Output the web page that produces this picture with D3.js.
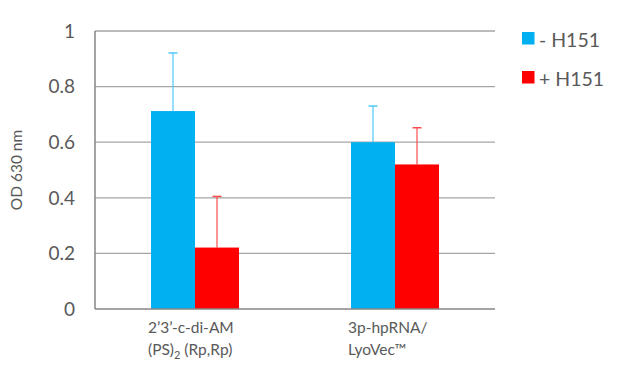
<!DOCTYPE html>
<html><head><meta charset="utf-8">
<script src="https://cdn.jsdelivr.net/npm/d3@7"></script>
<style>body{margin:0;background:#fff}svg{display:block}text{font-family:Lato,"Open Sans",sans-serif;fill:#595959}</style>
</head><body>
<script>
const categories = [["2’3’-c-di-AM", "(PS)|2| (Rp,Rp)"], ["3p-hpRNA/", "LyoVec™"]];
const seriesNames = ["- H151", "+ H151"];
const minusH151 = [0.712, 0.600];
const plusH151 = [0.221, 0.520];
const minusErr = [0.209, 0.130];
const plusErr = [0.184, 0.132];
const yTicks = [0, 0.2, 0.4, 0.6, 0.8, 1];
const colors = ["#00B0F0", "#FF0000"];
const errColors = ["#4FC8F5", "#FF4D4D"];

const W = 624, H = 369;
const m = {l: 95, r: 129, t: 31, b: 60};
const svg = d3.select("body").append("svg").attr("width", W).attr("height", H);
const x = d3.scaleBand().domain(d3.range(categories.length)).range([m.l, W - m.r]);
const xs = d3.scaleBand().domain([0, 1]).range([0, 88]);
const y = d3.scaleLinear().domain([0, 1]).range([H - m.b, m.t]);

// gridlines
svg.append("g").selectAll("line").data(yTicks.filter(d => d > 0)).join("line")
  .attr("x1", m.l).attr("x2", W - m.r).attr("y1", d => y(d)).attr("y2", d => y(d))
  .attr("stroke", "#a6a6a6").attr("stroke-width", 1.3);

// y tick labels
svg.append("g").selectAll("text").data(yTicks).join("text")
  .attr("x", 75).attr("y", d => y(d)).attr("dy", "0.36em").attr("text-anchor", "end")
  .attr("font-size", 19).text(d => d3.format("")(d));

// y title
svg.append("text").attr("transform", `translate(22,${(y(0)+y(1))/2}) rotate(-90)`)
  .attr("text-anchor", "middle").attr("font-size", 15.5).text("OD 630 nm");

const series = [minusH151, plusH151];
const errs = [minusErr, plusErr];
series.forEach((vals, s) => {
  const g = svg.append("g");
  vals.forEach((v, i) => {
    const bx = x(i) + x.bandwidth() / 2 - 44 + xs(s);
    const cx = bx + xs.bandwidth() / 2;
    const top = y(v + errs[s][i]);
    g.append("line").attr("x1", cx).attr("x2", cx).attr("y1", y(v)).attr("y2", top)
      .attr("stroke", errColors[s]).attr("stroke-width", 1.2);
    g.append("line").attr("x1", cx - 4.5).attr("x2", cx + 4.5).attr("y1", top).attr("y2", top)
      .attr("stroke", errColors[s]).attr("stroke-width", 1.5);
    g.append("rect").attr("x", bx).attr("y", y(v)).attr("width", xs.bandwidth())
      .attr("height", y(0) - y(v)).attr("fill", colors[s]);
  });
});

// axes lines
svg.append("line").attr("x1", m.l).attr("x2", W - m.r).attr("y1", y(0)).attr("y2", y(0))
  .attr("stroke", "#868686").attr("stroke-width", 1.5);
svg.append("line").attr("x1", m.l).attr("x2", m.l).attr("y1", y(0)).attr("y2", y(1))
  .attr("stroke", "#868686").attr("stroke-width", 1.5);

// category labels (|...| marks subscript)
categories.forEach((lines, i) => {
  const tx = x(i) + x.bandwidth() / 2 - 47;
  lines.forEach((t, j) => {
    const txt = svg.append("text").attr("x", tx).attr("y", 333 + j * 22).attr("font-size", 15.5);
    t.split("|").forEach((part, k) => {
      const ts = txt.append("tspan").text(part);
      if (k % 2 === 1) ts.attr("font-size", 11).attr("dy", 4);
      else if (k > 0) ts.attr("dy", -4);
    });
  });
});

// legend
const lg = svg.append("g");
seriesNames.forEach((n, i) => {
  lg.append("rect").attr("x", 522).attr("y", 32 + i * 39).attr("width", 12.5).attr("height", 12.5).attr("fill", colors[i]);
  lg.append("text").attr("x", 539).attr("y", 46.5 + i * 39).attr("font-size", 19.5).text(n);
});
</script>
</body></html>
